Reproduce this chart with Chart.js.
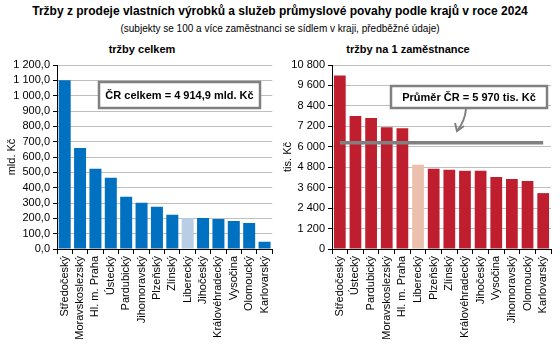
<!DOCTYPE html>
<html>
<head>
<meta charset="utf-8">
<script src="https://cdn.jsdelivr.net/npm/chart.js@4"></script>
<style>
  body { margin: 0; width: 560px; height: 344px; background: #fff; font-family: "Liberation Sans", Arial, sans-serif; position: relative; overflow: hidden; }
  .t { position: absolute; white-space: nowrap; color: #000; }
  #title { left: 0; width: 560px; top: 4px; text-align: center; font-weight: bold; font-size: 12px; }
  #subtitle { left: 0; width: 560px; top: 23px; text-align: center; font-size: 10px; }
  #sub1 { left: 142px; top: 43px; transform: translateX(-50%); font-weight: bold; font-size: 11px; }
  #sub2 { left: 408px; top: 43px; transform: translateX(-50%); font-weight: bold; font-size: 11px; }
  .box { position: absolute; top: 0; width: 280px; height: 344px; }
</style>
</head>
<body>
<div class="t" id="title">Tržby z prodeje vlastních výrobků a služeb průmyslové povahy podle krajů v roce 2024</div>
<div class="t" id="subtitle">(subjekty se 100 a více zaměstnanci se sídlem v kraji, předběžné údaje)</div>
<div class="t" id="sub1">tržby celkem</div>
<div class="t" id="sub2">tržby na 1 zaměstnance</div>
<div class="box" style="left:0"><canvas id="celkem" width="280" height="344"></canvas></div>
<div class="box" style="left:280px"><canvas id="zamestnanec" width="280" height="344"></canvas></div>
<script>
// tržby celkem (mld. Kč)
const krajeCelkem = ['Středočeský', 'Moravskoslezský', 'Hl. m. Praha', 'Ústecký', 'Pardubický', 'Jihomoravský',
  'Plzeňský', 'Zlínský', 'Liberecký', 'Jihočeský', 'Královéhradecký', 'Vysočina', 'Olomoucký', 'Karlovarský'];
const trzbyCelkem = [1101, 659, 524, 465, 341, 302, 276, 224, 200, 202, 196, 183, 170, 47];

// tržby na 1 zaměstnance (tis. Kč)
const krajeZam = ['Středočeský', 'Ústecký', 'Pardubický', 'Moravskoslezský', 'Hl. m. Praha', 'Liberecký',
  'Plzeňský', 'Zlínský', 'Královéhradecký', 'Jihočeský', 'Vysočina', 'Jihomoravský', 'Olomoucký', 'Karlovarský'];
const trzbyZam = [10190, 7810, 7690, 7150, 7090, 4950, 4710, 4650, 4590, 4590, 4230, 4110, 3990, 3280];
const prumerLine = 6230;

const highlight = 'Liberecký';
const font = 'Liberation Sans';

function czNum(v, dec) {
  const s = Number(v).toFixed(dec).replace('.', ',');
  const [i, d] = s.split(',');
  const ii = i.replace(/\B(?=(\d{3})+(?!\d))/g, ' ');
  return d ? ii + ',' + d : ii;
}

// callout box (+ optional arrow), placed relative to the chart area
function callout(id, text, dx, dy, w, h, arrow) {
  return {
    id: id,
    afterDraw(chart) {
      const a = chart.chartArea, c = chart.ctx;
      const x = a.left + dx, y = a.top + dy;
      c.save();
      c.fillStyle = '#fff';
      c.fillRect(x, y, w, h);
      c.strokeStyle = '#808080';
      c.lineWidth = 2.5;
      c.strokeRect(x, y, w, h);
      c.fillStyle = '#000';
      c.font = 'bold 11px "' + font + '"';
      c.textAlign = 'center';
      c.textBaseline = 'middle';
      c.fillText(text, x + w / 2, y + h / 2 + 1);
      if (arrow) {
        const sx = x + 75, sy = y + h + 1;
        const ex = x + 66, ey = y + h + 23;
        c.strokeStyle = '#808080';
        c.lineWidth = 2;
        c.beginPath();
        c.moveTo(sx, sy);
        c.quadraticCurveTo(sx - 1, sy + 12, ex, ey);
        c.stroke();
        c.beginPath();
        c.moveTo(ex - 2, ey - 8);
        c.lineTo(ex, ey);
        c.lineTo(ex + 7, ey - 5);
        c.stroke();
      }
      c.restore();
    }
  };
}

function options(yMax, yStep, dec, yTitle, yWidth, padRight, titlePad) {
  return {
    responsive: false,
    animation: false,
    layout: { padding: { top: 65, right: padRight, left: 0, bottom: 0 } },
    plugins: { legend: { display: false }, tooltip: { enabled: false } },
    scales: {
      x: {
        offset: true,
        grid: { offset: true, drawOnChartArea: false, tickLength: 5, tickColor: '#000' },
        border: { color: '#000', width: 1 },
        ticks: { color: '#000', font: { family: font, size: 11 }, maxRotation: 90, minRotation: 90, autoSkip: false, padding: 2 },
        afterFit(s) { s.height = 95; }
      },
      y: {
        min: 0, max: yMax,
        grid: { color: '#BFBFBF', tickLength: 4, tickColor: '#000' },
        border: { color: '#000', width: 1 },
        ticks: { stepSize: yStep, autoSkip: false, color: '#000', font: { family: font, size: 11 }, padding: 3,
          callback: v => czNum(v, dec) },
        title: { display: true, text: yTitle, color: '#000', font: { family: font, size: 11 }, padding: { top: titlePad, bottom: 0 } },
        afterFit(s) { s.width = yWidth; }
      }
    }
  };
}

new Chart(document.getElementById('celkem'), {
  type: 'bar',
  data: {
    labels: krajeCelkem,
    datasets: [{
      data: trzbyCelkem,
      backgroundColor: krajeCelkem.map(k => k === highlight ? '#B9CDE5' : '#0070C0'),
      barPercentage: 0.78,
      categoryPercentage: 1
    }]
  },
  options: options(1200, 100, 1, 'mld. Kč', 57, 7, 5),
  plugins: [callout('boxCelkem', 'ČR celkem = 4 914,9 mld. Kč', 42, 17, 161, 26, false)]
});

new Chart(document.getElementById('zamestnanec'), {
  type: 'bar',
  data: {
    labels: krajeZam,
    datasets: [{
      type: 'line',
      data: krajeZam.map(() => prumerLine),
      borderColor: '#808080',
      borderWidth: 3.5,
      pointRadius: 0,
      order: 0
    }, {
      data: trzbyZam,
      backgroundColor: krajeZam.map(k => k === highlight ? '#EBC1AD' : '#BE1E2D'),
      barPercentage: 0.75,
      categoryPercentage: 1,
      order: 1
    }]
  },
  options: options(10800, 1200, 0, 'tis. Kč', 52, 9, 1),
  plugins: [callout('boxPrumer', 'Průměr ČR = 5 970 tis. Kč', 59, 21, 156, 22, true)]
});
</script>
</body>
</html>
